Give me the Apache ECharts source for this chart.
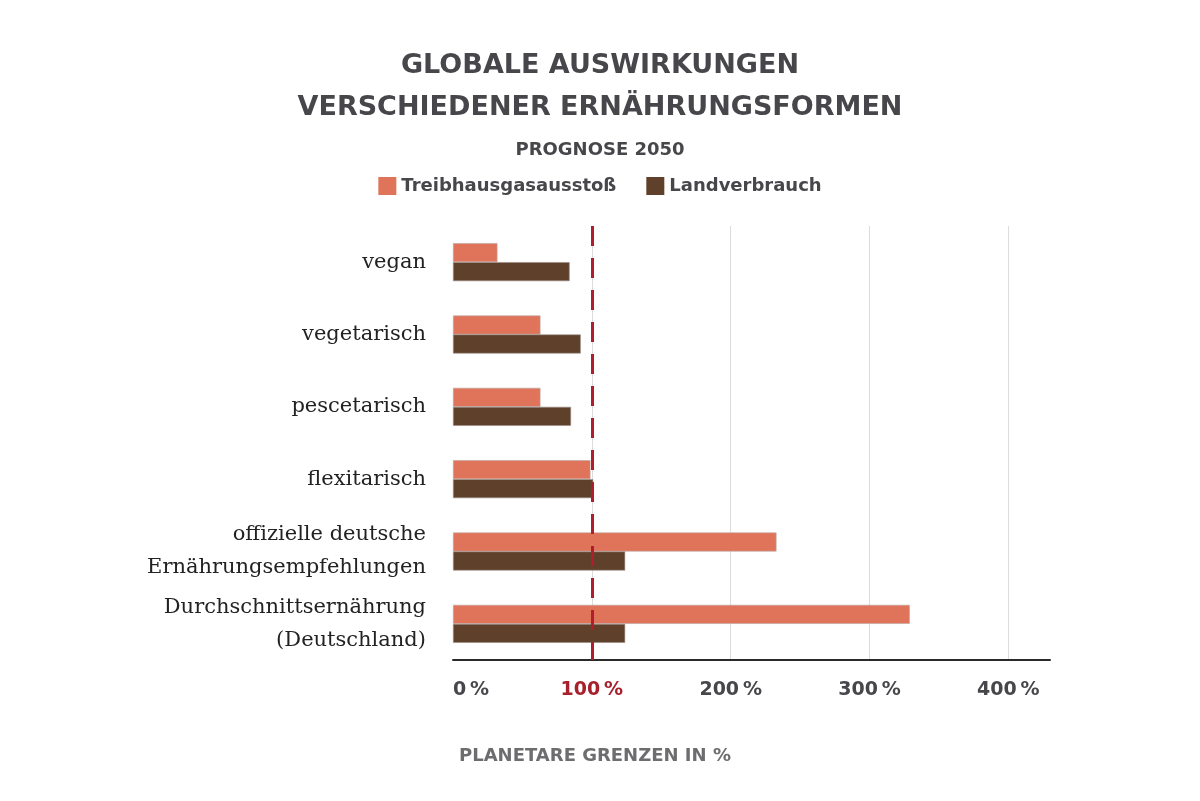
<!DOCTYPE html>
<html><head><meta charset="utf-8">
<script src="https://cdn.jsdelivr.net/npm/echarts@6/dist/echarts.min.js"></script>
<style>html,body{margin:0;padding:0;background:#fff}#c{width:1200px;height:801px}</style>
</head><body><div id="c"></div>
<script>
const categories = ['vegan','vegetarisch','pescetarisch','flexitarisch','offizielle deutsche\nErnährungsempfehlungen','Durchschnittsernährung\n(Deutschland)'];
const seriesNames = ['Treibhausgasausstoß','Landverbrauch'];
const ghgValues = [32, 63, 63, 99, 233, 329];
const landValues = [84, 92, 85, 101, 124, 124];
const xTicks = [0, 100, 200, 300, 400];
const limitValue = 100;

const chart = echarts.init(document.getElementById('c'), null, {renderer:'canvas'});
const boldSans = '"DejaVu Sans", sans-serif';
chart.setOption({
  animation: false,
  backgroundColor: '#fff',
  title: [
    {text: 'GLOBALE AUSWIRKUNGEN\nVERSCHIEDENER ERNÄHRUNGSFORMEN', left: 'center', top: 40,
     textStyle: {fontFamily: boldSans, fontWeight: 'bold', fontSize: 27, color: '#47474b', lineHeight: 42}},
    {text: 'PROGNOSE 2050', left: 'center', top: 136,
     textStyle: {fontFamily: boldSans, fontWeight: 'bold', fontSize: 18, color: '#47474b'}},
    {text: 'PLANETARE GRENZEN IN %', left: 454, top: 742,
     textStyle: {fontFamily: boldSans, fontWeight: 'bold', fontSize: 18, color: '#6d6d70'}}
  ],
  legend: {
    top: 172, left: 'center', itemWidth: 18, itemHeight: 18, itemGap: 30, icon: 'rect',
    itemStyle: {borderWidth: 0},
    textStyle: {fontFamily: boldSans, fontWeight: 'bold', fontSize: 18, color: '#47474b'},
    data: seriesNames
  },
  grid: {left: 453, right: 150, top: 226, bottom: 141, containLabel: false},
  xAxis: {
    type: 'value', min: 0, max: 430, interval: 100,
    axisLine: {show: true, lineStyle: {color: '#2a2a2a', width: 2}},
    axisTick: {show: false},
    splitLine: {show: true, showMinLine: false, showMaxLine: false, lineStyle: {color: '#dcdcdc', width: 1}},
    axisLabel: {
      margin: 21, showMaxLabel: false, alignMinLabel: 'left',
      formatter: function (v) {
        if (xTicks.indexOf(v) < 0) return '';
        return v === limitValue ? '{r|' + v + '\u2009%}' : '{d|' + v + '\u2009%}';
      },
      rich: {
        d: {fontFamily: boldSans, fontWeight: 'bold', fontSize: 19, color: '#47474b'},
        r: {fontFamily: boldSans, fontWeight: 'bold', fontSize: 19, color: '#a8202c'}
      }
    }
  },
  yAxis: {
    type: 'category', inverse: true, data: categories,
    axisLine: {show: false}, axisTick: {show: false}, splitLine: {show: false},
    axisLabel: {margin: 27, fontFamily: '"DejaVu Serif", serif', fontSize: 21, color: '#222', lineHeight: 33, align: 'right'}
  },
  series: [
    {name: seriesNames[0], type: 'bar', data: ghgValues, barWidth: 19, barGap: '0%',
     itemStyle: {color: '#e0745a', borderColor: '#b8a8a2', borderWidth: 0.6},
     markLine: {silent: true, symbol: 'none', label: {show: false},
       lineStyle: {color: '#b01e2c', width: 3, type: [20, 12]},
       data: [{xAxis: limitValue}]}},
    {name: seriesNames[1], type: 'bar', data: landValues, barWidth: 19, barGap: '0%',
     itemStyle: {color: '#5f402b', borderColor: '#9a8f8a', borderWidth: 0.6}}
  ]
});
</script></body></html>
